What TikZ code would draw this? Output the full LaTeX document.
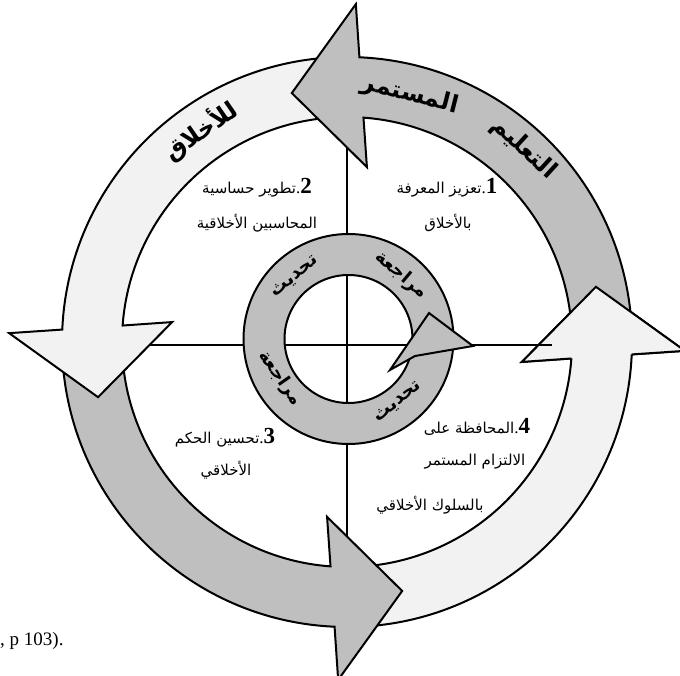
\documentclass[tikz,border=0pt]{standalone}
\usepackage{fontspec}
\setmainfont{Liberation Serif}
\newfontfamily\arabicfont[Script=Arabic]{DejaVu Sans}
\TeXXeTstate=1
\usepackage{xcolor}
\definecolor{arcgray}{HTML}{BFBFBF}
\definecolor{arclight}{HTML}{F2F2F2}

% one block arrow of the outer cycle, head at the top
\newcommand\cyclearrow{(2:225) -- (2:285) arc[start angle=2, end angle=87.5, radius=285]
  -- (88.5:338) -- (102.5:255) -- (83.5:176) -- (85.8:225) arc[start angle=85.8, end angle=2, radius=225] -- cycle}
\newcommand\cyclehead{(87.5:285) -- (88.5:338) -- (102.5:255) -- (83.5:176) -- (85.8:225)}
\newcommand\itemno[1]{{\rmfamily\bfseries\fontsize{23}{23}\selectfont #1}{\rmfamily\fontsize{17}{17}\selectfont.}}

\begin{document}
\begin{tikzpicture}[x=1pt,y=1pt,
    arcline/.style={draw=black, line width=2pt, line join=miter},
    crossline/.style={line width=2.6pt},
    quad/.style={font=\arabicfont\fontsize{15}{18}\selectfont, inner sep=0pt},
    ringword/.style={font=\arabicfont\bfseries\fontsize{24}{26}\selectfont, inner sep=0pt},
    hubword/.style={font=\arabicfont\bfseries\fontsize{18}{20}\selectfont, inner sep=0pt}]
\useasboundingbox (-347,-333) rectangle (333,342);

% outer cycle, each head lies over the next tail
\begin{scope}[rotate=270]
  \draw[arcline, fill=arclight] \cyclearrow;
\end{scope}
\begin{scope}[rotate=180]
  \draw[arcline, fill=arcgray] \cyclearrow;
\end{scope}
\begin{scope}[rotate=90]
  \draw[arcline, fill=arclight] \cyclearrow;
\end{scope}
\draw[arcline, fill=arcgray] \cyclearrow;
% head of the right arrow again, over the tail of the top one
\begin{scope}[rotate=270]
  \fill[arclight] \cyclehead -- cycle;
  \draw[arcline] \cyclehead;
\end{scope}

\draw[crossline] (-197.5,-3) -- (205,-3);
\draw[crossline] (0,194.5) -- (0,-194.5);

% inner ring
\coordinate (hub) at (1.5,3);
\draw[arcline, fill=arcgray, even odd rule] (hub) circle[radius=105] (hub) circle[radius=64];
\draw[arcline, fill=arcgray] (82,29) -- (126,-4) -- (68,-14) -- (43,-28) -- cycle;

% words on the rings
\node[ringword, rotate=-42.4] (teach) at (47.6:262) {\beginR التعليم\endR};
\node[ringword, rotate=-14.3] (steady) at (75.7:255) {\beginR المستمر\endR};
\node[ringword, rotate=34.7] (ethics) at (124.7:257) {\beginR للأخلاق\endR};
\node[hubword, rotate=-40] (review1) at (54,67) {\beginR مراجعة\endR};
\node[hubword, rotate=40] (update1) at (-52,65) {\beginR تحديث\endR};
\node[hubword, rotate=-55] (review2) at (-67,-36) {\beginR مراجعة\endR};
\node[hubword, rotate=39] (update2) at (51,-60) {\beginR تحديث\endR};

% quadrants
\node[quad] (q1a) at (100,154) {\beginR\itemno{1}تعزيز المعرفة\endR};
\node[quad] (q1b) at (101,119) {\beginR بالأخلاق\endR};
\node[quad] (q2a) at (-90,154) {\beginR\itemno{2}تطوير حساسية\endR};
\node[quad] (q2b) at (-90,119) {\beginR المحاسبين الأخلاقية\endR};
\node[quad] (q3a) at (-122,-96) {\beginR\itemno{3}تحسين الحكم\endR};
\node[quad] (q3b) at (-121,-128) {\beginR الأخلاقي\endR};
\node[quad] (q4a) at (130,-85) {\beginR\itemno{4}المحافظة على\endR};
\node[quad] (q4b) at (128,-120) {\beginR الالتزام المستمر\endR};
\node[quad] (q4c) at (83,-163) {\beginR بالسلوك الأخلاقي\endR};

\node[anchor=west, inner sep=0pt, font=\fontsize{19}{19}\selectfont] (source) at (-347,-299) {, p 103).};
\end{tikzpicture}
\end{document}
